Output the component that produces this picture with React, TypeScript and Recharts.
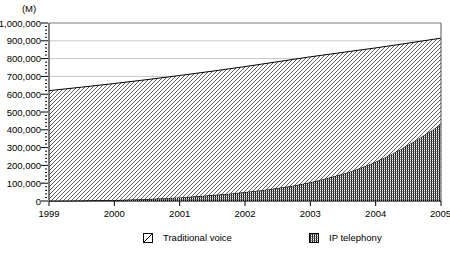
import { AreaChart, Area, XAxis, YAxis, CartesianGrid, ReferenceLine, Legend } from "recharts";

const years = [1999, 2000, 2001, 2002, 2003, 2004, 2005];
// IP telephony (bottom layer), in M
const ipTelephony = [0, 5000, 20000, 50000, 105000, 220000, 430000];
// Traditional voice, stacked on top of IP telephony
const traditionalVoice = [620000, 655000, 685000, 705000, 705000, 640000, 485000];

const majorTicks = [0, 100000, 200000, 300000, 400000, 500000, 600000, 700000, 800000, 900000, 1000000];
const minorTicks = Array.from({ length: 51 }, (_, i) => i * 20000);

const data = years.map((year, i) => ({
  year,
  ip: ipTelephony[i],
  voice: traditionalVoice[i],
}));

const font = "'Liberation Sans', Arial, sans-serif";

const fmt = (v: number) => v.toLocaleString("en-US");

function YTick(props: any) {
  const { x, y, payload } = props;
  const v = payload.value as number;
  const major = v % 100000 === 0;
  const axisX = x + 6;
  if (!major) {
    return <line x1={axisX - 2} x2={axisX} y1={y} y2={y} stroke="#000" />;
  }
  return (
    <g>
      <line x1={axisX - 6} x2={axisX + 1} y1={y} y2={y} stroke="#000" />
      <text x={axisX - 6} y={y} dy={3.5} textAnchor="end" fontSize={9.5} fontFamily={font} fill="#000">
        {fmt(v)}
      </text>
    </g>
  );
}

function UnitLabel(props: any) {
  const { viewBox } = props;
  return (
    <text x={viewBox.x + 29} y={viewBox.y - 11} textAnchor="middle" fontSize={9.5} fontFamily={font} fill="#000">
      (M)
    </text>
  );
}

function DotPattern({ id }: { id: string }) {
  return (
    <pattern id={id} width="2" height="2" patternUnits="userSpaceOnUse">
      <rect x="0" y="0" width="1" height="1" fill="#fff" />
      <rect x="1" y="0" width="1" height="1" fill="#111" />
      <rect x="0" y="1" width="1" height="1" fill="#999" />
      <rect x="1" y="1" width="1" height="1" fill="#444" />
    </pattern>
  );
}

function Patterns() {
  return (
    <defs>
      <pattern id="hatch" width="4" height="4" patternUnits="userSpaceOnUse">
        <rect width="4" height="4" fill="#fff" />
        <path d="M-1,1 L1,-1 M0,4 L4,0 M3,5 L5,3" stroke="#444" strokeWidth="0.85" />
      </pattern>
      <DotPattern id="dots" />
    </defs>
  );
}

function LegendBox() {
  const items = [
    { left: 143, label: "Traditional voice", fill: "url(#hatchL)" },
    { left: 309, label: "IP telephony", fill: "url(#dotsL)" },
  ];
  return (
    <div style={{ position: "relative", height: 30, width: 450, fontFamily: font, fontSize: 9.5 }}>
      {items.map((it) => (
        <div key={it.label} style={{ position: "absolute", left: it.left, top: 11, display: "flex", alignItems: "center" }}>
          <svg width={10} height={10} style={{ display: "block" }}>
            <defs>
              <pattern id="hatchL" width="10" height="10" patternUnits="userSpaceOnUse">
                <rect width="10" height="10" fill="#fff" />
                <path d="M1,9 L9,1" stroke="#000" />
              </pattern>
              <DotPattern id="dotsL" />
            </defs>
            <rect x={0.5} y={0.5} width={9} height={9} fill={it.fill} stroke="#000" />
          </svg>
          <span style={{ marginLeft: 10, color: "#000" }}>{it.label}</span>
        </div>
      ))}
    </div>
  );
}

export default function App() {
  return (
    <div style={{ position: "absolute", left: 0, top: 0, width: 450, height: 259, background: "#fff" }}>
      <AreaChart width={450} height={259} data={data} margin={{ top: 23, right: 9, left: 0, bottom: 8 }}>
        <Patterns />
        <CartesianGrid vertical={false} horizontalValues={majorTicks} stroke="#c8c8c8" />
        <XAxis
          dataKey="year"
          type="number"
          domain={[1999, 2005]}
          ticks={years}
          height={20}
          tickSize={5}
          stroke="#000"
          tick={{ fontSize: 9.5, fontFamily: font, fill: "#000", dy: 2 }}
        />
        <YAxis
          type="number"
          domain={[0, 1000000]}
          ticks={minorTicks}
          interval={0}
          width={49}
          tickLine={false}
          stroke="#000"
          tick={<YTick />}
          label={<UnitLabel />}
        />
        <Area
          type="monotone"
          dataKey="ip"
          stackId="1"
          stroke="#000"
          strokeWidth={1}
          fill="url(#dots)"
          fillOpacity={1}
          isAnimationActive={false}
        />
        <Area
          type="monotone"
          dataKey="voice"
          stackId="1"
          stroke="#000"
          strokeWidth={1}
          fill="url(#hatch)"
          fillOpacity={1}
          isAnimationActive={false}
        />
        <ReferenceLine y={1000000} stroke="#999" />
        <ReferenceLine x={2005} stroke="#555" />
        <Legend verticalAlign="bottom" wrapperStyle={{ left: 0, width: 450 }} content={<LegendBox />} />
      </AreaChart>
    </div>
  );
}
